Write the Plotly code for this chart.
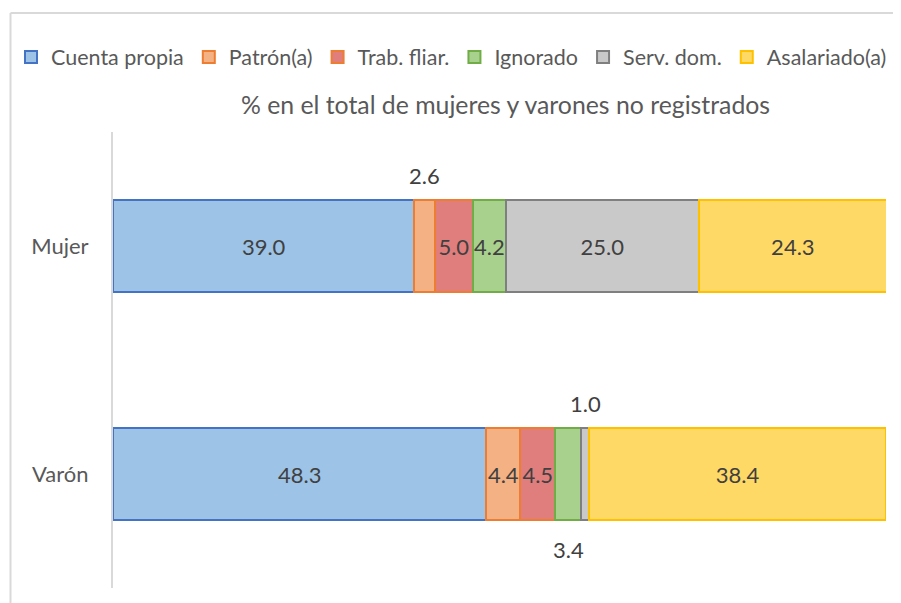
import plotly.graph_objects as go

categories = ["Mujer", "Varón"]
series_names = ["Cuenta propia", "Patrón(a)", "Trab. fliar.", "Ignorado", "Serv. dom.", "Asalariado(a)"]
cuenta_propia = [39.0, 48.3]
patron = [2.6, 4.4]
trab_fliar = [5.0, 4.5]
ignorado = [4.2, 3.4]
serv_dom = [25.0, 1.0]
asalariado = [24.3, 38.4]
title_text = "% en el total de mujeres y varones no registrados"

series_values = [cuenta_propia, patron, trab_fliar, ignorado, serv_dom, asalariado]
fills = ["#9DC3E6", "#F4B183", "#E07E7E", "#A9D18E", "#C9C9C9", "#FFD966"]
borders = ["#4472C4", "#ED7D31", "#ED7D31", "#70AD47", "#7F7F7F", "#FFC000"]

# labels that sit outside the bar: (series index, category index) -> offset px
outside = {(1, 0): -71, (4, 1): -71, (3, 1): 75}

FONT = "Lato"
OFF = 8  # page body margin in front of the plot div
# plot area in page pixels
PL, PR, PT, PB = 113, 886, 132, 588
L, T = PL - OFF, PT - OFF
W, H = 901, 603
R, B = W - (PR - OFF), H - (PB - OFF)
PW, PH = PR - PL, PB - PT


def px_x(p):
    return (p - PL) / PW


def px_y(p):
    return 1 + (PT - p) / PH


fig = go.Figure()
for i, (name, vals) in enumerate(zip(series_names, series_values)):
    texts = []
    for j, v in enumerate(vals):
        texts.append("" if (i, j) in outside else f"{v:.1f}")
    fig.add_trace(go.Bar(
        y=categories, x=vals, name=name, orientation="h",
        marker=dict(color=fills[i], line=dict(color=borders[i], width=2)),
        text=texts, textposition="inside", insidetextanchor="middle", textangle=0,
        textfont=dict(family=FONT, size=22, color="#404040"),
        hoverinfo="skip",
    ))

# labels drawn outside of the bar
for (i, j), dy in outside.items():
    start = sum(series_values[k][j] for k in range(i))
    v = series_values[i][j]
    fig.add_annotation(x=start + v / 2, y=categories[j], text=f"{v:.1f}",
                       showarrow=False, yshift=-dy,
                       font=dict(family=FONT, size=22, color="#404040"))

fig.add_annotation(x=px_x(505), y=px_y(104), xref="paper", yref="paper",
                   text=title_text, showarrow=False, xanchor="center", yanchor="middle",
                   font=dict(family=FONT, size=24.8, color="#595959"))

# chart frame
fig.add_shape(type="line", xref="paper", yref="paper", x0=px_x(10.5), x1=px_x(905),
              y0=px_y(13), y1=px_y(13), line=dict(color="#D9D9D9", width=2))
fig.add_shape(type="line", xref="paper", yref="paper", x0=px_x(10.5), x1=px_x(10.5),
              y0=px_y(13), y1=px_y(610), line=dict(color="#D9D9D9", width=2))

fig.update_layout(
    width=W, height=H,
    margin=dict(l=L, r=R, t=T, b=B, autoexpand=False),
    paper_bgcolor="white", plot_bgcolor="white",
    barmode="stack", bargap=0.6,
    uniformtext=dict(mode="show", minsize=22),
    showlegend=True,
    legend=dict(orientation="h", x=px_x(11), y=px_y(57), xanchor="left", yanchor="middle",
                font=dict(family=FONT, size=21.5, color="#595959"), traceorder="normal",
                itemwidth=30, bgcolor="rgba(0,0,0,0)"),
    xaxis=dict(range=[0, 100], showgrid=False, zeroline=False, showticklabels=False,
               showline=False, fixedrange=True, automargin=False),
    yaxis=dict(autorange="reversed", showgrid=False, zeroline=False, showline=True,
               linecolor="#D9D9D9", linewidth=2, ticks="", ticklabelstandoff=18,
               automargin=False,
               tickfont=dict(family=FONT, size=22, color="#595959")),
)

fig.write_html("out.html")
